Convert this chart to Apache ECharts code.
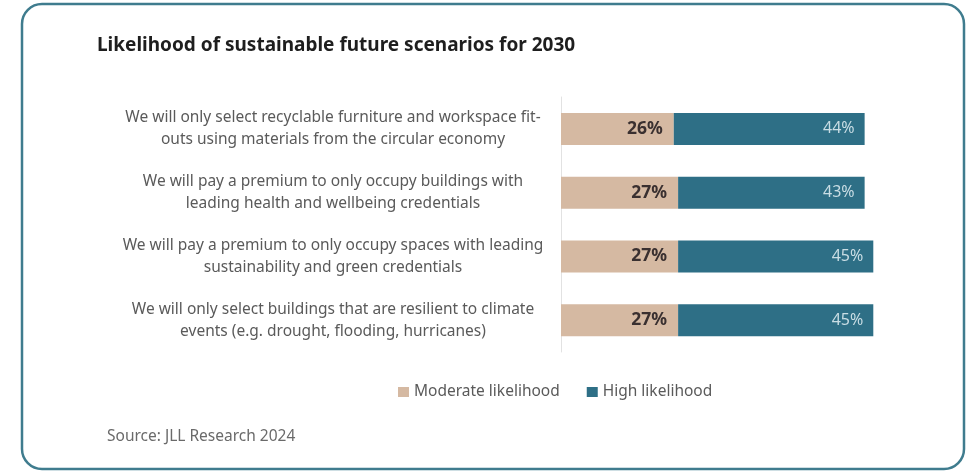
<!DOCTYPE html>
<html>
<head>
<meta charset="utf-8">
<script src="https://cdn.jsdelivr.net/npm/echarts@6/dist/echarts.min.js"></script>
<style>
html,body{margin:0;padding:0;background:#fff;}
#c{width:968px;height:471px;}
</style>
</head>
<body>
<div id="c"></div>
<script>
const titleText = 'Likelihood of sustainable future scenarios for 2030';
const sourceText = 'Source: JLL Research 2024';
const categories = [
  'We will only select recyclable furniture and workspace fit-\nouts using materials from the circular economy',
  'We will pay a premium to only occupy buildings with\nleading health and wellbeing credentials',
  'We will pay a premium to only occupy spaces with leading\nsustainability and green credentials',
  'We will only select buildings that are resilient to climate\nevents (e.g. drought, flooding, hurricanes)'
];
const seriesNames = ['Moderate likelihood', 'High likelihood'];
const moderate = [26, 27, 27, 27];
const high = [44, 43, 45, 45];

const chart = echarts.init(document.getElementById('c'), null, {renderer: 'canvas'});
const FONT = '"Noto Sans", sans-serif';
chart.setOption({
  animation: false,
  backgroundColor: '#ffffff',
  title: {
    text: titleText,
    left: 92, top: 31,
    textStyle: {fontFamily: FONT, fontSize: 19, fontWeight: 'bold', color: '#1e1e1e'}
  },
  graphic: [
    {type: 'rect', shape: {x: 22, y: 4, width: 942, height: 465, r: 20},
     style: {fill: 'none', stroke: '#3f7c8e', lineWidth: 2.5}, silent: true},
    {type: 'text', left: 107, top: 429,
     style: {text: sourceText, font: '15.5px "Noto Sans", sans-serif', fill: '#6a6a6a'}}
  ],
  legend: {
    left: 393, top: 379,
    itemWidth: 11, itemHeight: 10, itemGap: 27, icon: 'rect',
    textStyle: {fontFamily: FONT, fontSize: 15.5, color: '#5a5a5a'},
    data: seriesNames
  },
  grid: {left: 561, top: 97, right: 60, bottom: 119, containLabel: false},
  xAxis: {
    type: 'value', min: 0, max: 80, show: false
  },
  yAxis: {
    type: 'category', inverse: true, data: categories,
    axisLine: {show: true, lineStyle: {color: '#e2e2e2', width: 1}},
    axisTick: {show: false},
    axisLabel: {
      margin: 16,
      formatter: function (v) {
        return v.split('\n').map(function (l) { return '{a|' + l + '}'; }).join('\n');
      },
      rich: {
        a: {width: 424, align: 'center', fontFamily: FONT, fontSize: 15.5, color: '#5a5a5a', lineHeight: 22}
      }
    }
  },
  series: [
    {
      name: seriesNames[0], type: 'bar', stack: 'a', data: moderate,
      barWidth: 32,
      itemStyle: {color: '#d5b9a2'},
      label: {show: true, position: 'insideRight', distance: 11, formatter: '{c}%',
        fontFamily: FONT, fontSize: 17.5, fontWeight: 'bold', color: '#3a3030'}
    },
    {
      name: seriesNames[1], type: 'bar', stack: 'a', data: high,
      barWidth: 32,
      itemStyle: {color: '#2e6f86'},
      label: {show: true, position: 'insideRight', distance: 10, formatter: '{c}%',
        fontFamily: FONT, fontSize: 16, color: '#c9dde4'}
    }
  ]
});
</script>
</body>
</html>
